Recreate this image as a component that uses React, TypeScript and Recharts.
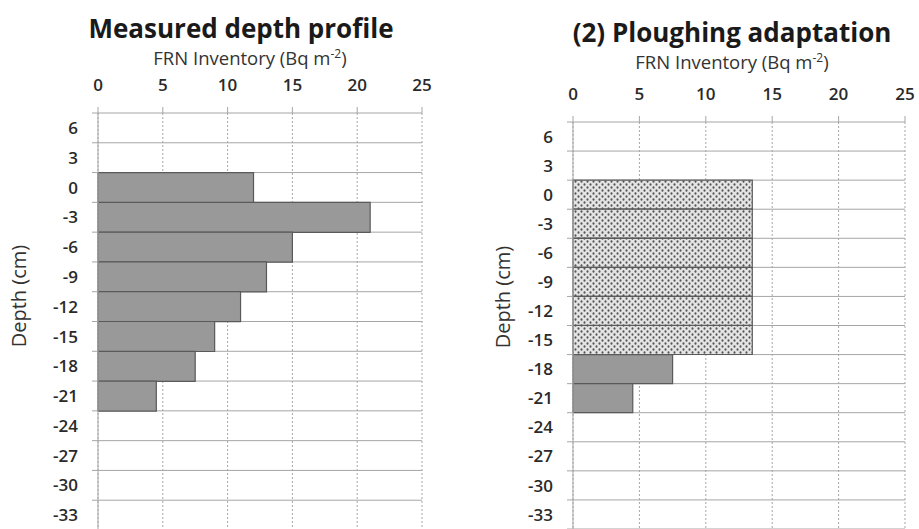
import { BarChart, Bar, XAxis, YAxis, CartesianGrid, Cell } from "recharts";

// depth classes (cm), top of each 3 cm layer
const depthLabels = ["6", "3", "0", "-3", "-6", "-9", "-12", "-15", "-18", "-21", "-24", "-27", "-30", "-33"];
// measured FRN inventory per layer (Bq m-2)
const measuredValues = [0, 0, 12, 21, 15, 13, 11, 9, 7.5, 4.5, 0, 0, 0, 0];
// after ploughing the top 18 cm are mixed evenly
const ploughedValues = [0, 0, 13.5, 13.5, 13.5, 13.5, 13.5, 13.5, 7.5, 4.5, 0, 0, 0, 0];
const ploughMixed = [false, false, true, true, true, true, true, true, false, false, false, false, false, false];
const xTicks = [0, 5, 10, 15, 20, 25];

const FONT = "'Open Sans', sans-serif";
const GRID = "#a6a6a6";
const BAR_FILL = "#999999";
const BAR_EDGE = "#5a5a5a";
const TICK_SIZE = 6;
const TICK_MARGIN = 14;

const measuredData = depthLabels.map((depth, i) => ({ depth, value: measuredValues[i] }));
const ploughedData = depthLabels.map((depth, i) => ({ depth, value: ploughedValues[i], mixed: ploughMixed[i] }));

interface ProfileProps {
  data: Array<{ depth: string; value: number; mixed?: boolean }>;
  width: number;
  height: number;
  margin: { top: number; right: number; bottom: number; left: number };
}

// category label plus Excel-style tick marks on the band edges
function DepthTick(props: any) {
  const { x, y, payload, index, band, count } = props;
  const axisX = x + TICK_SIZE + TICK_MARGIN;
  return (
    <g>
      <text x={x} y={y} dy="0.36em" textAnchor="end" fontFamily={FONT} fontSize={17} fontWeight={600} fill="#2a2a2a">
        {payload.value}
      </text>
      <line x1={axisX - TICK_SIZE} x2={axisX} y1={y - band / 2} y2={y - band / 2} stroke={GRID} />
      {index === count - 1 && (
        <line x1={axisX - TICK_SIZE} x2={axisX} y1={y + band / 2} y2={y + band / 2} stroke={GRID} />
      )}
    </g>
  );
}

function Profile({ data, width, height, margin }: ProfileProps) {
  const xAxisHeight = 30;
  const plotHeight = height - margin.top - margin.bottom - xAxisHeight;
  const band = plotHeight / data.length;

  return (
    <BarChart
      width={width}
      height={height}
      data={data}
      layout="vertical"
      margin={margin}
      barCategoryGap={0}
    >
      <defs>
        <pattern id="mixedDots" width={6} height={6} patternUnits="userSpaceOnUse">
          <rect width={6} height={6} fill="#e4e4e4" />
          <ellipse cx={1.5} cy={1.5} rx={1} ry={1.3} fill="#555" />
          <ellipse cx={4.5} cy={4.5} rx={1} ry={1.3} fill="#555" />
        </pattern>
      </defs>
      <CartesianGrid
        vertical={false}
        stroke={GRID}
        horizontalCoordinatesGenerator={({ offset }: any) =>
          data.map((_, i) => offset.top + i * band).concat(offset.top + data.length * band)
        }
      />
      <CartesianGrid horizontal={false} stroke={GRID} strokeDasharray="2 2" />
      <XAxis
        type="number"
        orientation="top"
        domain={[0, 25]}
        ticks={xTicks}
        height={xAxisHeight}
        axisLine={false}
        tickSize={TICK_SIZE}
        tickMargin={16}
        tickLine={{ stroke: GRID }}
        tick={{ fontFamily: FONT, fontSize: 17, fontWeight: 600, fill: "#2a2a2a" }}
      />
      <YAxis
        type="category"
        dataKey="depth"
        width={60}
        tickLine={false}
        tickSize={TICK_SIZE}
        tickMargin={TICK_MARGIN}
        axisLine={{ stroke: GRID }}
        interval={0}
        tick={<DepthTick band={band} count={data.length} />}
      />
      <Bar dataKey="value" stroke={BAR_EDGE} strokeWidth={1.2} isAnimationActive={false}>
        {data.map((d, i) => (
          <Cell key={i} fill={d.mixed ? "url(#mixedDots)" : BAR_FILL} />
        ))}
      </Bar>
    </BarChart>
  );
}

const titleStyle: React.CSSProperties = {
  position: "absolute",
  transform: "translate(-50%, -50%)",
  whiteSpace: "nowrap",
  fontFamily: FONT,
  color: "#1a1a1a",
  lineHeight: 1,
};

function Title({ x, y, text }: { x: number; y: number; text: string }) {
  return <div style={{ ...titleStyle, left: x, top: y, fontSize: 26, fontWeight: 700 }}>{text}</div>;
}

function AxisTitle({ x, y }: { x: number; y: number }) {
  return (
    <div style={{ ...titleStyle, left: x, top: y, fontSize: 18.5, color: "#333" }}>
      FRN Inventory (Bq m<sup style={{ fontSize: 12 }}>-2</sup>)
    </div>
  );
}

function DepthTitle({ x, y }: { x: number; y: number }) {
  return (
    <div style={{ ...titleStyle, left: x, top: y, fontSize: 20, color: "#333", transform: "translate(-50%, -50%) rotate(-90deg)" }}>
      Depth (cm)
    </div>
  );
}

export default function App() {
  return (
    <div style={{ position: "absolute", left: 0, top: 0, width: 919, height: 529, overflow: "hidden", background: "#fff" }}>
      <div style={{ position: "absolute", left: 0, top: 0 }}>
        <Profile data={measuredData} width={460} height={540} margin={{ top: 83, right: 38, bottom: 10, left: 38 }} />
      </div>
      <div style={{ position: "absolute", left: 460, top: 0 }}>
        <Profile data={ploughedData} width={459} height={540} margin={{ top: 92, right: 14, bottom: 11, left: 53 }} />
      </div>
      <Title x={241} y={28} text="Measured depth profile" />
      <Title x={732} y={32} text="(2) Ploughing adaptation" />
      <AxisTitle x={250} y={58} />
      <AxisTitle x={732} y={62} />
      <DepthTitle x={19} y={296} />
      <DepthTitle x={503} y={297} />
    </div>
  );
}
